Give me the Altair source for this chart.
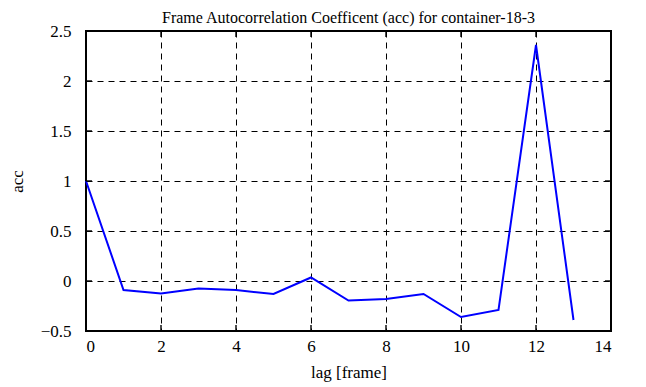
import altair as alt
import pandas as pd

lags = list(range(14))
acc = [1.0, -0.09, -0.125, -0.075, -0.09, -0.13, 0.035, -0.195, -0.18, -0.13, -0.36, -0.29, 2.36, -0.39]
x_ticks = [0, 2, 4, 6, 8, 10, 12, 14]
y_ticks = [-0.5, 0, 0.5, 1, 1.5, 2, 2.5]

df = pd.DataFrame({"lag": lags, "acc": acc})
xt = pd.DataFrame({"t": x_ticks})
yt = pd.DataFrame({"t": y_ticks})

FONT = "Liberation Serif"
xs = alt.Scale(domain=[0, 14], nice=False, zero=False)
ys = alt.Scale(domain=[-0.5, 2.5], nice=False, zero=False)

xaxis = alt.Axis(values=x_ticks, title="lag [frame]", grid=True, gridDash=[6, 5],
                 gridColor="black", gridOpacity=1, gridWidth=1, ticks=False,
                 labelPadding=7, titlePadding=10, domain=False,
                 labelFont=FONT, titleFont=FONT, labelFontSize=17, titleFontSize=17,
                 labelColor="black", titleColor="black", titleFontWeight="normal")
yaxis = alt.Axis(values=y_ticks, title="acc", grid=True, gridDash=[6, 5],
                 gridColor="black", gridOpacity=1, gridWidth=1, ticks=False,
                 labelPadding=15, titlePadding=14, domain=False,
                 labelFont=FONT, titleFont=FONT, labelFontSize=17, titleFontSize=17,
                 labelColor="black", titleColor="black", titleFontWeight="normal",
                 labelExpr="datum.value == 0 ? '0' : format(datum.value, '.1~f')")

line = alt.Chart(df).mark_line(color="#0000ff", strokeWidth=2).encode(
    x=alt.X("lag:Q", scale=xs, axis=xaxis),
    y=alt.Y("acc:Q", scale=ys, axis=yaxis),
)

tb = alt.Chart(xt).mark_tick(color="black", size=12, thickness=2, clip=True, orient="vertical")
bottom_ticks = tb.encode(x=alt.X("t:Q", scale=xs), y=alt.datum(-0.5))
top_ticks = tb.encode(x=alt.X("t:Q", scale=xs), y=alt.datum(2.5))
lr = alt.Chart(yt).mark_tick(color="black", size=12, thickness=2, clip=True, orient="horizontal")
left_ticks = lr.encode(y=alt.Y("t:Q", scale=ys), x=alt.datum(0))
right_ticks = lr.encode(y=alt.Y("t:Q", scale=ys), x=alt.datum(14))

chart = alt.layer(line, bottom_ticks, top_ticks, left_ticks, right_ticks).properties(
    width=525, height=300,
    title=alt.TitleParams("Frame Autocorrelation Coefficent (acc) for container-18-3",
                          font=FONT, fontSize=16, fontWeight="normal", color="black",
                          offset=4, dy=8),
    autosize=alt.AutoSizeParams(type="none"),
    padding={"left": 78, "top": 23, "right": 27, "bottom": 56},
    background="white",
).configure_view(stroke="black", strokeWidth=2)

chart.save("out.html", embed_options={"renderer": "svg", "actions": False})
